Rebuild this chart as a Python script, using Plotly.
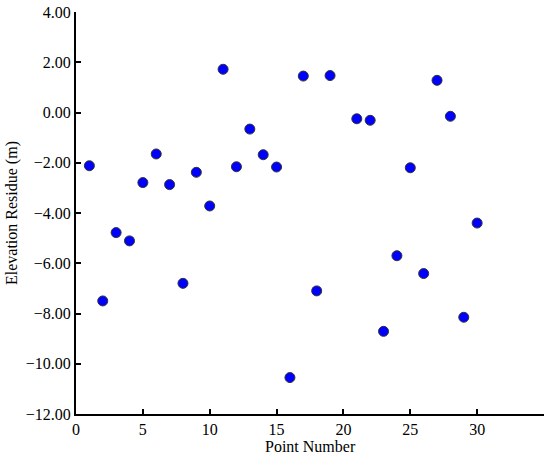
import plotly.graph_objects as go

point_number = [1, 2, 3, 4, 5, 6, 7, 8, 9, 10, 11, 12, 13, 14, 15, 16, 17, 18, 19,
                21, 22, 23, 24, 25, 26, 27, 28, 29, 30]
elevation_residue = [-2.12, -7.50, -4.78, -5.11, -2.79, -1.65, -2.87, -6.80, -2.38, -3.72,
                     1.72, -2.16, -0.66, -1.68, -2.17, -10.55, 1.45, -7.10, 1.47,
                     -0.25, -0.31, -8.71, -5.70, -2.20, -6.41, 1.28, -0.15, -8.15, -4.40]
x_ticks = [0, 5, 10, 15, 20, 25, 30]
y_ticks = [4, 2, 0, -2, -4, -6, -8, -10, -12]

fig = go.Figure()
fig.add_trace(go.Scatter(
    x=point_number, y=elevation_residue, mode="markers",
    marker=dict(size=10, color="#0000ff", line=dict(color="#333333", width=1)),
    showlegend=False, cliponaxis=False,
))

font = dict(family="Liberation Serif", size=16, color="black")
fig.update_layout(
    width=550, height=457,
    margin=dict(l=76, r=6, t=12, b=43),
    paper_bgcolor="white", plot_bgcolor="white",
    font=font,
    xaxis=dict(
        range=[0, 35], tickvals=x_ticks, ticks="inside", ticklen=5, tickwidth=1.5,
        tickcolor="black", showline=True, linecolor="black", linewidth=2,
        showgrid=False, zeroline=False, automargin=False,
        tickfont=font,
    ),
    yaxis=dict(
        range=[-12, 4], tickvals=y_ticks, tickformat=".2f", ticks="inside", ticklen=5,
        tickwidth=1.5, tickcolor="black", showline=True, linecolor="black", linewidth=2,
        showgrid=False, zeroline=False, automargin=False,
        tickfont=font,
    ),
    annotations=[
        dict(text="Point Number", xref="paper", yref="paper", x=0.5, y=0,
             xanchor="center", yanchor="middle", yshift=-32, showarrow=False, font=font),
        dict(text="Elevation Residue (m)", xref="paper", yref="paper", x=0, y=0.5,
             xanchor="center", yanchor="middle", xshift=-64, textangle=-90,
             showarrow=False, font=font),
    ],
)
fig.write_html("out.html", config={"displayModeBar": False},
               post_script="document.body.style.margin='0';")
